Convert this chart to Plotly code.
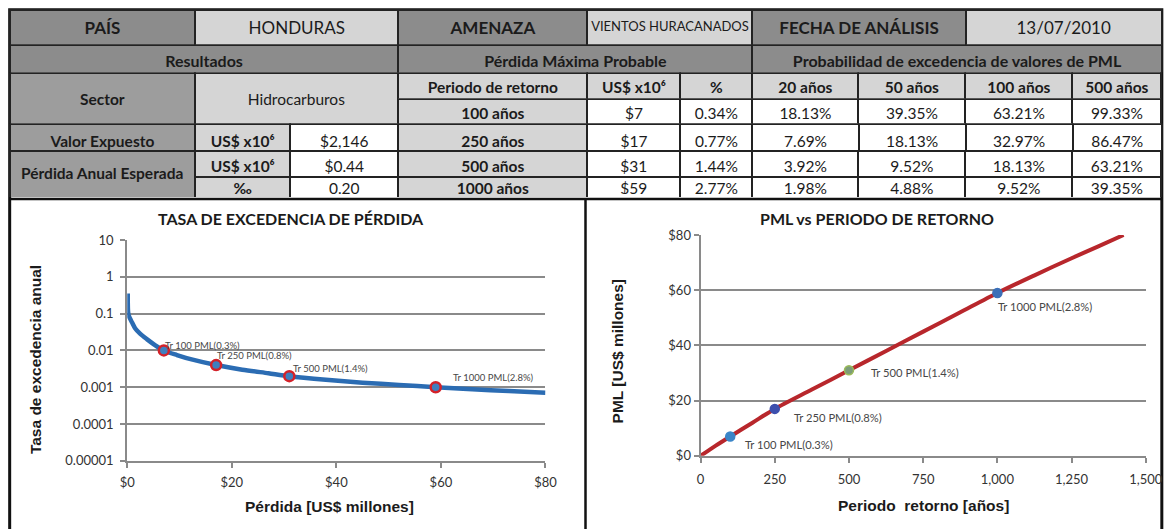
import math
import plotly.graph_objects as go

# Geometría: las posiciones se escriben en píxeles de la imagen final (1170x529).
# La página se dibuja con 8 px de margen y se captura a 1196x545, que luego se
# reduce a 1170x529; fx/fy pasan de píxeles de imagen a píxeles de la figura.
IMG_W, IMG_H = 1170, 529
CAP_W, CAP_H = 1196, 545
OFF = 8
SX, SY = CAP_W / IMG_W, CAP_H / IMG_H
W, H = CAP_W - 2 * OFF, CAP_H - 2 * OFF

# ---------------- datos ----------------
pais = "HONDURAS"
amenaza = "VIENTOS HURACANADOS"
fecha_analisis = "13/07/2010"
sector = "Hidrocarburos"
valor_expuesto = 2146      # US$ x10^6
pae_usd = 0.44             # pérdida anual esperada, US$ x10^6
pae_permil = 0.20          # pérdida anual esperada, ‰

periodos_retorno = [100, 250, 500, 1000]          # años
pml_usd = [7, 17, 31, 59]                          # US$ x10^6
pml_pct = [0.34, 0.77, 1.44, 2.77]                 # % del valor expuesto
tasa_excedencia = [0.01, 0.004, 0.002, 0.001]      # 1/año

horizontes = [20, 50, 100, 500]                    # años
prob_20 = [18.13, 7.69, 3.92, 1.98]
prob_50 = [39.35, 18.13, 9.52, 4.88]
prob_100 = [63.21, 32.97, 18.13, 9.52]
prob_500 = [99.33, 86.47, 63.21, 39.35]

# curva de tasa de excedencia de pérdida
perdida_curva = [0.1, 0.2, 0.5, 0.9, 1.5, 2.5, 3.8, 5.3, 7, 9.5, 12.5, 17,
                 22, 27, 31, 38, 45, 52, 59, 66, 73, 80]
tasa_curva = [0.35, 0.1, 0.075, 0.058, 0.04, 0.028, 0.02, 0.014, 0.01, 0.0075,
              0.0056, 0.004, 0.003, 0.0024, 0.002, 0.0016, 0.00133, 0.00115,
              0.001, 0.00088, 0.00079, 0.00071]

# curva PML vs periodo de retorno
tr_curva = [0, 25, 50, 100, 175, 250, 375, 500, 625, 750, 875, 1000, 1125, 1250, 1340, 1425]
pml_curva = [0, 1.8, 3.6, 7, 12, 17, 24, 31, 38, 45, 52, 59, 65.4, 71.6, 75.9, 80]

# marcas de los ejes
x1_ticks = [0, 20, 40, 60, 80]
y1_ticks = [1e-5, 1e-4, 1e-3, 1e-2, 1e-1, 1, 10]
y1_text = ["0.00001", "0.0001", "0.001", "0.01", "0.1", "1", "10"]
x2_ticks = [0, 250, 500, 750, 1000, 1250, 1500]
y2_ticks = [0, 20, 40, 60, 80]

# ---------------- estilos ----------------
LINE = "#232323"
DARK = "#8c8c8c"
MID = "#9d9d9d"
LIGHT = "#d5d5d5"
WHITE = "#ffffff"
TXT = "#1b1b1b"
GRID = "#8a8a8a"
TFONT = "Lato"
CLEAR = "rgba(0,0,0,0)"
FS = 15.5

LEFT, RIGHT = 9.5, 1161   # bordes exteriores de la tabla


def fx(px):
    return px * SX - OFF


def fy(px):
    return px * SY - OFF


def X(px):
    return fx(px) / W


def Y(px):
    return 1 - fy(px) / H


def nb(s):
    return s.replace(" ", "\u00a0")


def px_dom(x0, x1, y0, y1):
    return dict(x=[max(0.0, X(x0)), min(1.0, X(x1))], y=[max(0.0, Y(y1)), min(1.0, Y(y0))])


def table_row(edges, y0, y1, texts, fills, weights, sizes, text_dy=0.0):
    """Fila de tabla: una capa con fondo y bordes y otra con el texto,
    desplazada text_dy px para alinear el texto verticalmente."""
    widths = [b - a for a, b in zip(edges[:-1], edges[1:])]
    n = len(texts)
    h = fy(y1) - fy(y0)
    empty = [[] for _ in range(n)]
    font = dict(family=TFONT, size=sizes, color=TXT, weight=weights)
    back = go.Table(
        domain=px_dom(edges[0], edges[-1], y0, y1), columnwidth=widths,
        header=dict(values=[""] * n, height=h, fill_color=fills,
                    line=dict(color=LINE, width=2)),
        cells=dict(values=empty))
    front = go.Table(
        domain=px_dom(edges[0], edges[-1], y0 + text_dy, y1 + text_dy), columnwidth=widths,
        header=dict(values=[nb(t) for t in texts], height=h, fill_color=CLEAR,
                    line_width=0, font=font, align="center"),
        cells=dict(values=empty))
    return [back, front]


B, N = "bold", "normal"
SUP6 = "US$ x10\u2076"
right_edges = [398, 587, 680, 752, 858, 965, 1072, RIGHT]

traces = []
# fila 1
traces += table_row([LEFT, 195, 398, 587, 752, 965, RIGHT], 9.5, 45,
                    ["PAÍS", pais, "AMENAZA", amenaza, "FECHA DE ANÁLISIS", fecha_analisis],
                    [DARK, LIGHT, DARK, LIGHT, DARK, LIGHT],
                    [B, N, B, N, B, N], [17, 17, 17, 13, 17, 17], text_dy=4.0)
# fila 2
traces += table_row([LEFT, 398, 752, RIGHT], 45, 73,
                    ["Resultados", "Pérdida Máxima Probable",
                     "Probabilidad de excedencia de valores de PML"],
                    [DARK] * 3, [B] * 3, [16] * 3, text_dy=2.0)
# sector
traces += table_row([LEFT, 195, 398], 73, 124, ["Sector", sector],
                    [MID, LIGHT], [B, N], [FS, FS], text_dy=12.5)
# encabezado PML
traces += table_row(right_edges, 73, 99,
                    ["Periodo de retorno", SUP6, "%"] + [f"{a} años" for a in horizontes],
                    [LIGHT] * 7, [B] * 7, [FS] * 7, text_dy=0)

prob_cols = [prob_20, prob_50, prob_100, prob_500]


def pml_cells(i):
    return ([f"{periodos_retorno[i]} años", f"${pml_usd[i]}", f"{pml_pct[i]:.2f}%"]
            + [f"{c[i]:.2f}%" for c in prob_cols])


R_FILL = [LIGHT] + [WHITE] * 6
R_W = [B] + [N] * 6

traces += table_row(right_edges, 99, 124, pml_cells(0), R_FILL, R_W, [FS] * 7, text_dy=0.5)
traces += table_row([LEFT, 195, 290] + right_edges, 124, 151,
                    ["Valor Expuesto", SUP6, f"${valor_expuesto:,}"] + pml_cells(1),
                    [MID, LIGHT, WHITE] + R_FILL, [B, B, N] + R_W, [FS] * 10, text_dy=3.0)
traces += table_row([195, 290] + right_edges, 151, 177,
                    [SUP6, f"${pae_usd:.2f}"] + pml_cells(2),
                    [LIGHT, WHITE] + R_FILL, [B, N] + R_W, [FS] * 9, text_dy=1.0)
traces += table_row([195, 290] + right_edges, 177, 198,
                    ["‰", f"{pae_permil:.2f}"] + pml_cells(3),
                    [LIGHT, WHITE] + R_FILL, [B, N] + R_W, [FS] * 9, text_dy=-3.2)
traces += table_row([LEFT, 195], 151, 198, ["Pérdida Anual Esperada"],
                    [MID], [B], [FS], text_dy=8.5)

# ---------------- gráficos ----------------
labels = [f"Tr {t} PML({p:.1f}%)" for t, p in zip(periodos_retorno, pml_pct)]

traces.append(go.Scatter(x=perdida_curva, y=tasa_curva, mode="lines",
                         line=dict(color="#2b6cb3", width=4.5, shape="spline", smoothing=0.8),
                         xaxis="x", yaxis="y", hoverinfo="skip", showlegend=False))
traces.append(go.Scatter(x=pml_usd, y=tasa_excedencia, mode="markers",
                         marker=dict(size=10, color="#3f7fbf",
                                     line=dict(color="#d3222a", width=2.5)),
                         xaxis="x", yaxis="y", showlegend=False))

traces.append(go.Scatter(x=tr_curva, y=pml_curva, mode="lines",
                         line=dict(color="#b8272c", width=4, shape="spline", smoothing=0.8),
                         xaxis="x2", yaxis="y2", hoverinfo="skip", showlegend=False))
traces.append(go.Scatter(x=periodos_retorno, y=pml_usd, mode="markers",
                         marker=dict(size=9,
                                     color=["#3a85c8", "#3c4fae", "#7d9c78", "#3b6fb8"],
                                     line=dict(color=["#3a85c8", "#3c4fae", "#9bbb59", "#3b6fb8"],
                                               width=1.5)),
                         xaxis="x2", yaxis="y2", showlegend=False))

fig = go.Figure(traces)

tick_font = dict(family=TFONT, size=13, color="#333333")
axis_common = dict(showline=True, linecolor=GRID, linewidth=2, ticks="outside",
                   ticklen=5, tickwidth=2, tickcolor=GRID, tickfont=tick_font,
                   zeroline=False, fixedrange=True)

fig.update_layout(
    width=W, height=H, margin=dict(l=0, r=0, t=0, b=0),
    paper_bgcolor="white", plot_bgcolor="white", showlegend=False,
    xaxis=dict(domain=[X(127), X(545)], anchor="y", range=[0, 80],
               tickvals=x1_ticks, ticktext=[f"${v}" for v in x1_ticks], showgrid=False,
               ticklabelstandoff=4, **axis_common),
    yaxis=dict(domain=[Y(461), Y(240)], anchor="x", type="log",
               range=[-5, 1], tickvals=y1_ticks, ticktext=y1_text,
               showgrid=True, gridcolor=GRID, gridwidth=2, ticklabelstandoff=4,
               **axis_common),
    xaxis2=dict(domain=[X(700), X(1145)], anchor="y2", range=[0, 1500],
                tickvals=x2_ticks, ticktext=[f"{v:,}" for v in x2_ticks],
                showgrid=False, ticklabelstandoff=6, **axis_common),
    yaxis2=dict(domain=[Y(456), Y(235)], anchor="x2", range=[0, 80],
                tickvals=y2_ticks, ticktext=[f"${v}" for v in y2_ticks], showgrid=True,
                gridcolor=GRID, gridwidth=2, ticklabelstandoff=0, **axis_common),
)

# etiquetas de puntos
left_font = dict(family=TFONT, size=9.5, color="#474747")
right_font = dict(family=TFONT, size=11.2, color="#474747")
left_off = [(-1, 5), (-1, 9), (2, 7), (15, 9)]
right_off = [(12, -8), (17, -8), (20, -2), (-1, -13)]
for i, txt in enumerate(labels):
    fig.add_annotation(x=pml_usd[i], y=math.log10(tasa_excedencia[i]), xref="x", yref="y",
                       text=txt, showarrow=False, xanchor="left", yanchor="middle",
                       xshift=left_off[i][0] * SX, yshift=left_off[i][1] * SY, font=left_font)
    fig.add_annotation(x=periodos_retorno[i], y=pml_usd[i], xref="x2", yref="y2",
                       text=txt, showarrow=False, xanchor="left", yanchor="middle",
                       xshift=right_off[i][0] * SX, yshift=right_off[i][1] * SY, font=right_font)

title_font = dict(family=TFONT, size=16, color=TXT, weight="bold")
axt_font = dict(family="Liberation Sans", size=15.5, color=TXT, weight="bold")


def paper_text(x, y, text, font, angle=0):
    fig.add_annotation(x=X(x), y=Y(y), xref="paper", yref="paper", text=text,
                       showarrow=False, font=font, textangle=angle,
                       xanchor="center", yanchor="middle")


paper_text(291, 218, "TASA DE EXCEDENCIA DE PÉRDIDA", title_font)
paper_text(876, 218, "PML vs PERIODO DE RETORNO", title_font)
paper_text(329, 507, "Pérdida [US$ millones]", axt_font)
paper_text(923, 506, "Periodo\u00a0 retorno [años]", axt_font)
paper_text(36, 360, "Tasa de excedencia anual", axt_font, -90)
paper_text(617, 352, "PML [US$ millones]", axt_font, -90)

# marcos de los paneles (debajo de los textos de los ejes)
fig.add_shape(type="rect", xref="paper", yref="paper", x0=X(LEFT), x1=X(RIGHT),
              y0=-0.02, y1=Y(9.5), line=dict(color="#111111", width=3), layer="below")
fig.add_shape(type="line", xref="paper", yref="paper", x0=X(585), x1=X(585),
              y0=-0.02, y1=Y(198), line=dict(color="#111111", width=2.5))
fig.add_shape(type="line", xref="paper", yref="paper", x0=X(LEFT), x1=X(RIGHT),
              y0=Y(199), y1=Y(199), line=dict(color="#111111", width=2.5))

fig.write_html("out.html")
